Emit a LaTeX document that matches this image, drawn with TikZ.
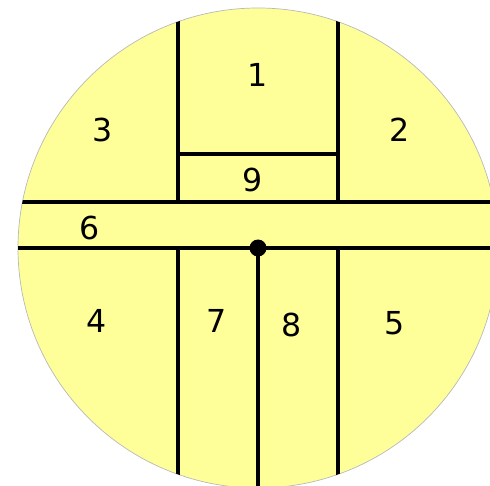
\documentclass[tikz,border=0pt]{standalone}
\usepackage{fontspec}
\setmainfont{DejaVu Sans}
\usepackage{xcolor}
\usepackage{tikz}
\usetikzlibrary{
	positioning,
	calc
}
\definecolor{discyellow}{RGB}{255,255,153}

\begin{document}
\begin{tikzpicture}[
				x=0.02cm, y=-0.02cm,
				wall/.style={
					draw=black, line width=2.5pt
				},
				field/.style={
					font=\fontsize{18}{20}\selectfont, inner sep=0pt
				},
				]
				\useasboundingbox (0,0) rectangle (490,486);
				
				%disc
				\coordinate (centre) at (258,248);
				\filldraw[fill=discyellow, draw=gray!55, line width=0.4pt] (centre) circle (240);
				
				%walls, cut at the rim
				\begin{scope}
				\clip (centre) circle (240);
				\coordinate (lefttop) at (178,0);
				\coordinate (leftmid) at (178,202);
				\coordinate (leftlow) at (178,248);
				\coordinate (leftbot) at (178,500);
				\coordinate (righttop) at (338,0);
				\coordinate (rightmid) at (338,202);
				\coordinate (rightlow) at (338,248);
				\coordinate (rightbot) at (338,500);
				\coordinate (ninel) at (178,154);
				\coordinate (niner) at (338,154);
				\coordinate (westup) at (0,202);
				\coordinate (eastup) at (520,202);
				\coordinate (westlow) at (0,248);
				\coordinate (eastlow) at (520,248);
				\coordinate (southmid) at (258,500);
				
				\draw[wall] (lefttop) -- (leftmid);
				\draw[wall] (leftlow) -- (leftbot);
				\draw[wall] (righttop) -- (rightmid);
				\draw[wall] (rightlow) -- (rightbot);
				\draw[wall] (ninel) -- (niner);
				\draw[wall] (westup) -- (eastup);
				\draw[wall] (westlow) -- (eastlow);
				\draw[wall] (centre) -- (southmid);
				\end{scope}
				
				%junction
				\fill (centre) circle (8.5);
				
				%fields
				\node[field] (f1) at (258,75) {1};
				\node[field] (f2) at (400,130) {2};
				\node[field] (f3) at (103,130) {3};
				\node[field] (f9) at (253,180) {9};
				\node[field] (f6) at (90,228) {6};
				\node[field] (f4) at (97,321) {4};
				\node[field] (f7) at (217,321) {7};
				\node[field] (f8) at (292,325) {8};
				\node[field] (f5) at (395,323) {5};
\end{tikzpicture}
\end{document}
